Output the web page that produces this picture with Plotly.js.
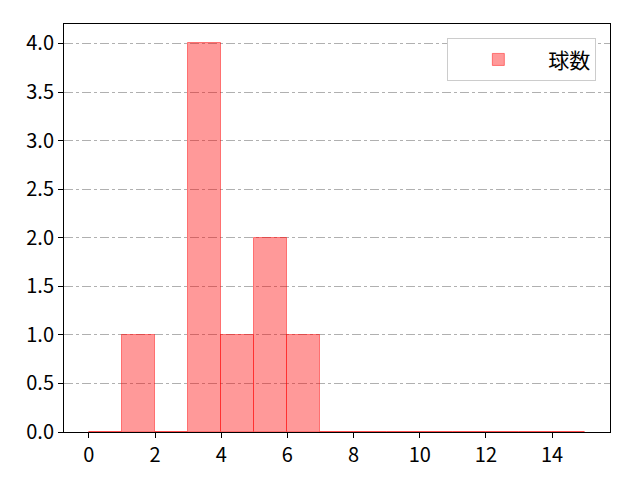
<!DOCTYPE html>
<html>
<head>
<meta charset="utf-8">
<script src="https://cdn.plot.ly/plotly-3.0.1.min.js"></script>
<style>
  body { margin: 0; }
  #chart { width: 640px; height: 480px; }
</style>
</head>
<body>
<div id="chart"></div>
<script>
// histogram bins (left edges) and counts
var binEdges = [0, 1, 2, 3, 4, 5, 6, 7, 8, 9, 10, 11, 12, 13, 14];
var counts   = [0, 1, 0, 4, 1, 2, 1, 0, 0, 0, 0, 0, 0, 0, 0];
var seriesName = '球数';
var xTicks = [0, 2, 4, 6, 8, 10, 12, 14];
var yTicks = [0, 0.5, 1, 1.5, 2, 2.5, 3, 3.5, 4];

var centers = binEdges.map(x => x + 0.5);

var trace = {
  x: centers,
  y: counts,
  width: binEdges.map(() => 1),
  type: 'bar',
  name: seriesName,
  showlegend: true,
  marker: {
    color: 'rgba(255,0,0,0.4)',
    line: { color: 'rgba(255,0,0,0.45)', width: 1 }
  }
};

var font = '"Noto Sans CJK JP", "Noto Sans", sans-serif';

var layout = {
  width: 640,
  height: 480,
  margin: { l: 64, r: 30, t: 24, b: 48 },
  paper_bgcolor: 'white',
  plot_bgcolor: 'white',
  font: { family: font, size: 20, color: 'black' },
  bargap: 0,
  xaxis: {
    range: [-0.75, 15.75],
    tickvals: xTicks,
    ticks: 'outside',
    ticklen: 5,
    tickcolor: 'black',
    showgrid: false,
    zeroline: false,
    showline: true,
    linecolor: 'black',
    linewidth: 1,
    mirror: true
  },
  yaxis: {
    range: [0, 4.2],
    tickvals: yTicks,
    tickformat: '.1f',
    ticks: 'outside',
    ticklen: 5,
    tickcolor: 'black',
    showgrid: true,
    gridcolor: '#b0b0b0',
    griddash: 'dashdot',
    gridwidth: 1,
    zeroline: false,
    showline: true,
    linecolor: 'black',
    linewidth: 1,
    mirror: true
  },
  legend: {
    x: 0.975,
    y: 0.965,
    xanchor: 'right',
    yanchor: 'top',
    bgcolor: 'white',
    bordercolor: '#cccccc',
    borderwidth: 1,
    itemwidth: 90,
    font: { family: font, size: 21 }
  }
};

Plotly.newPlot('chart', [trace], layout, { displayModeBar: false, displaylogo: false });
</script>
</body>
</html>
